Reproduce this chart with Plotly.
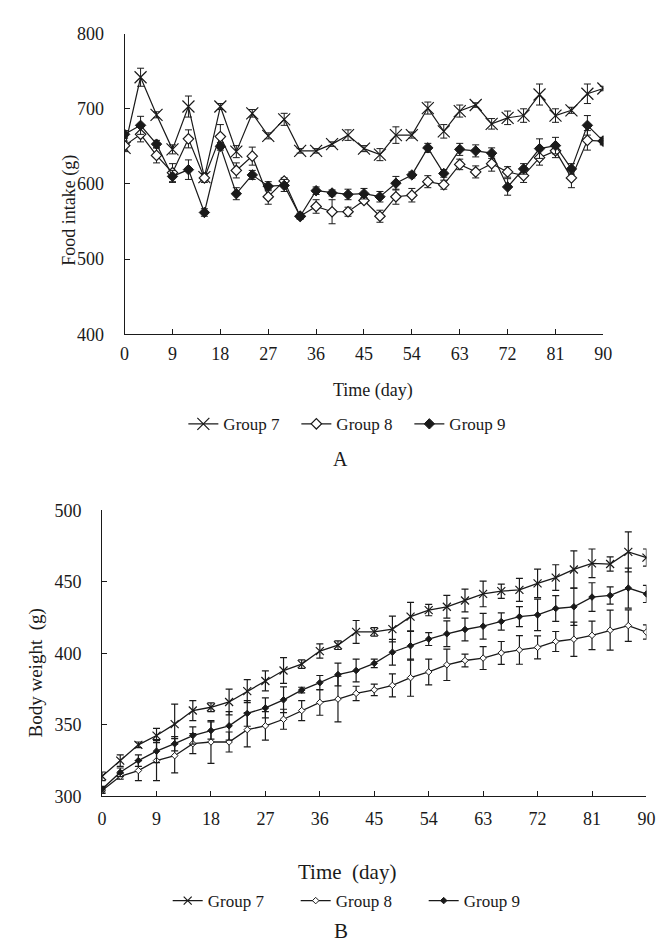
import plotly.graph_objects as go

# ---------------- data ----------------
days = list(range(0, 91, 3))
x_ticks = list(range(0, 91, 9))
groups = ["Group 7", "Group 8", "Group 9"]

# Panel A: food intake (g)
food_g7 = [648, 742, 692, 646, 703, 609, 703, 643, 694, 664, 686, 644, 644, 653, 665, 647,
           639, 665, 665, 701, 670, 697, 705, 680, 688, 691, 719, 691, 698, 720, 727]
food_g8 = [651, 666, 638, 615, 660, 608, 663, 618, 637, 583, 604, 557, 570, 563, 563, 578,
           557, 583, 585, 603, 599, 626, 616, 627, 616, 611, 635, 644, 608, 658, 657]
food_g9 = [666, 678, 653, 610, 619, 562, 650, 587, 612, 597, 598, 557, 591, 588, 586, 587,
           583, 601, 612, 648, 614, 646, 644, 641, 596, 620, 647, 651, 620, 678, 657]
food_g7_err = [5, 12, 4, 6, 14, 5, 4, 8, 5, 4, 8, 3, 3, 3, 7, 4, 8, 11, 4, 8, 9, 8, 3, 7, 9, 9, 14, 9, 4, 13, 3]
food_g8_err = [6, 10, 10, 12, 12, 6, 16, 10, 12, 10, 4, 4, 9, 16, 6, 4, 8, 10, 9, 8, 6, 7, 8, 10, 7, 9, 10, 9, 13, 13, 5]
food_g9_err = [5, 12, 5, 8, 13, 5, 5, 8, 6, 6, 8, 3, 5, 4, 7, 7, 7, 9, 4, 6, 5, 8, 8, 7, 11, 7, 13, 11, 7, 13, 4]
food_yticks = [400, 500, 600, 700, 800]

# Panel B: body weight (g)
bw_g7 = [314, 325, 336, 342.5, 350.5, 360, 362.3, 366, 373.6, 380.7, 388, 392.5, 401.6, 405.7, 415, 415,
         417, 425.7, 430.3, 432.6, 437, 441.6, 443.5, 444.4, 449, 453, 458.7, 463, 462.5, 471, 467]
bw_g8 = [304, 314, 318, 325, 328.4, 336.8, 338, 338, 346.6, 349.3, 353.9, 360, 365.7, 368, 372, 374.5,
         377.6, 383, 387, 392, 395, 396.7, 400.3, 402.4, 404.2, 408.3, 409.9, 412.6, 416.2, 419.4, 414.9]
bw_g9 = [305, 316.8, 325, 331.6, 336.8, 342.5, 346, 349.3, 358, 361.8, 367.5, 374.3, 379.5, 385.2, 388, 393,
         400.8, 405.3, 410, 413.7, 416.7, 419, 422.3, 425.7, 426.9, 431.4, 432.6, 439.4, 440.5, 445.7, 441.6]
bw_g7_err = [3, 4, 2, 5, 14, 7, 3, 9, 8, 7, 9, 3, 5, 3, 8, 3, 9, 10, 4, 8, 8, 9, 5, 8, 10, 9, 13, 10, 5, 14, 6]
bw_g8_err = [2, 2, 7, 14, 12, 7, 15, 7, 12, 10, 7, 7, 9, 16, 5, 4, 8, 13, 9, 11, 4.5, 8, 8, 10, 8, 7, 12, 10, 14, 11, 5]
bw_g9_err = [2, 3, 4, 8, 5, 6, 6, 10, 9, 7, 9, 2, 5, 8, 8, 3, 9, 10, 4.5, 9, 8, 9, 6, 7, 11, 9, 13, 10, 6, 14, 6]
bw_yticks = [300, 350, 400, 450, 500]

# ---------------- styling ----------------
W, H = 668, 952
FONT = "Liberation Serif, Times New Roman, serif"
BLACK = "#1a1a1a"


def px_x(p):
    return p / W


def px_y(p):
    return 1 - p / H


fig = go.Figure()

styleA = [
    dict(symbol="x-thin", size=12, color=BLACK, line=dict(color=BLACK, width=1.2)),
    dict(symbol="diamond", size=8, color="white", line=dict(color=BLACK, width=1.2)),
    dict(symbol="diamond", size=8, color=BLACK, line=dict(color=BLACK, width=1)),
]
styleB = [
    dict(symbol="x-thin", size=8, color=BLACK, line=dict(color=BLACK, width=1.2)),
    dict(symbol="diamond", size=5, color="white", line=dict(color=BLACK, width=1)),
    dict(symbol="diamond", size=5, color=BLACK, line=dict(color=BLACK, width=1)),
]

food_series = [(food_g7, food_g7_err), (food_g8, food_g8_err), (food_g9, food_g9_err)]
bw_series = [(bw_g7, bw_g7_err), (bw_g8, bw_g8_err), (bw_g9, bw_g9_err)]

for name, (vals, err), mk in zip(groups, food_series, styleA):
    fig.add_trace(go.Scatter(
        x=days, y=vals, name=name, mode="lines+markers",
        line=dict(color=BLACK, width=1.2), marker=mk,
        error_y=dict(type="data", array=err, color=BLACK, thickness=1, width=3.5),
        xaxis="x", yaxis="y", legend="legend",
    ))

for name, (vals, err), mk in zip(groups, bw_series, styleB):
    fig.add_trace(go.Scatter(
        x=days, y=vals, name=name, mode="lines+markers",
        line=dict(color=BLACK, width=1.3), marker=mk,
        error_y=dict(type="data", array=err, color=BLACK, thickness=1.2, width=3.5),
        xaxis="x2", yaxis="y2", legend="legend2",
    ))

axis_common = dict(
    showline=True, linecolor=BLACK, linewidth=1.2, showgrid=False, zeroline=False,
    ticks="inside", ticklen=5, tickwidth=1.2, tickcolor=BLACK,
    tickfont=dict(family=FONT, size=18, color=BLACK),
)

fig.update_layout(
    width=W, height=H,
    margin=dict(l=0, r=0, t=0, b=0),
    paper_bgcolor="white", plot_bgcolor="white",
    font=dict(family=FONT, color=BLACK),
    xaxis=dict(domain=[px_x(114), px_x(603)], range=[0, 90], tickvals=x_ticks,
               anchor="y", ticklabelstandoff=3, **axis_common),
    yaxis=dict(domain=[px_y(323), px_y(16)], range=[400, 800], tickvals=food_yticks,
               anchor="x", ticklabelstandoff=16, **axis_common),
    xaxis2=dict(domain=[px_x(91), px_x(647)], range=[0, 90], tickvals=x_ticks,
                anchor="y2", ticklabelstandoff=6, **axis_common),
    yaxis2=dict(domain=[px_y(795), px_y(503)], range=[300, 500], tickvals=bw_yticks,
                anchor="x2", ticklabelstandoff=16, **axis_common),
    legend=dict(orientation="h", x=px_x(174), xanchor="left", y=px_y(415), yanchor="middle",
                font=dict(family=FONT, size=17, color=BLACK),
                entrywidth=68, entrywidthmode="pixels", bgcolor="rgba(0,0,0,0)"),
    legend2=dict(orientation="h", x=px_x(158), xanchor="left", y=px_y(902), yanchor="middle",
                 font=dict(family=FONT, size=17, color=BLACK),
                 entrywidth=83, entrywidthmode="pixels", bgcolor="rgba(0,0,0,0)"),
    annotations=[
        dict(text="Food intake (g)", x=px_x(58), y=px_y(196), xref="paper", yref="paper",
             textangle=-90, showarrow=False, font=dict(family=FONT, size=18, color=BLACK),
             xanchor="center", yanchor="middle"),
        dict(text="Time (day)", x=px_x(368), y=px_y(381), xref="paper", yref="paper",
             showarrow=False, font=dict(family=FONT, size=18, color=BLACK),
             xanchor="center", yanchor="middle"),
        dict(text="A", x=px_x(335), y=px_y(450), xref="paper", yref="paper",
             showarrow=False, font=dict(family=FONT, size=20, color=BLACK),
             xanchor="center", yanchor="middle"),
        dict(text="Body weight  (g)", x=px_x(23), y=px_y(669), xref="paper", yref="paper",
             textangle=-90, showarrow=False, font=dict(family=FONT, size=19, color=BLACK),
             xanchor="center", yanchor="middle"),
        dict(text="Time  (day)", x=px_x(341), y=px_y(872), xref="paper", yref="paper",
             showarrow=False, font=dict(family=FONT, size=21, color=BLACK),
             xanchor="center", yanchor="middle"),
        dict(text="B", x=px_x(335), y=px_y(933), xref="paper", yref="paper",
             showarrow=False, font=dict(family=FONT, size=21, color=BLACK),
             xanchor="center", yanchor="middle"),
    ],
)

fig.write_html("out.html")
